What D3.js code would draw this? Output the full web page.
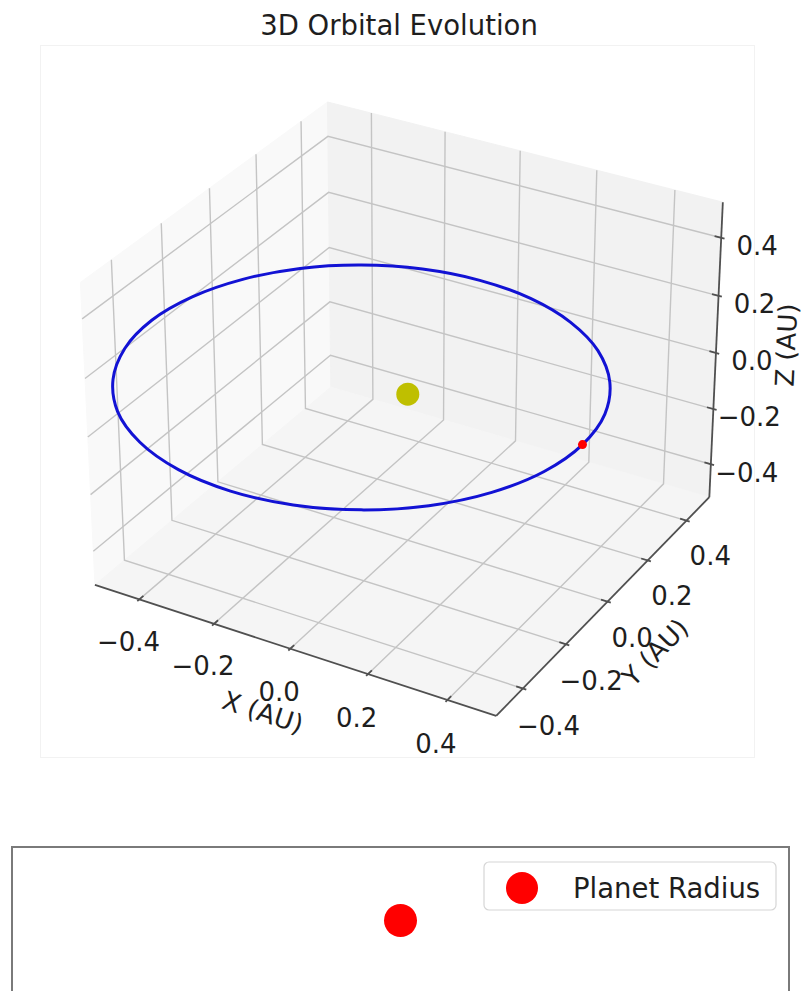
<!DOCTYPE html>
<html>
<head>
<meta charset="utf-8">
<script src="https://cdn.jsdelivr.net/npm/d3@7"></script>
<style>
  html, body { margin: 0; padding: 0; background: #ffffff; }
  svg { display: block; font-family: "DejaVu Sans", sans-serif; }
</style>
</head>
<body>
<svg id="chart" width="803" height="991"></svg>
<script>
// ---- data ----
const chartTitle = "3D Orbital Evolution";
const axisLimits = [-0.5, 0.5];                    // same limits on x, y and z
const tickValues = [-0.4, -0.2, 0.0, 0.2, 0.4];
const tickLabels = ["\u22120.4", "\u22120.2", "0.0", "0.2", "0.4"];
const axisTitles = ["X (AU)", "Y (AU)", "Z (AU)"];

// orbit track in AU (x, y, z)
const orbitX = [0.447, 0.428, 0.371, 0.280, 0.162, 0.025, -0.123, -0.270, -0.408, -0.526, -0.616, -0.673,
                -0.693, -0.673, -0.616, -0.526, -0.408, -0.270, -0.123, 0.025, 0.162, 0.280, 0.371, 0.428];
const orbitY = [0.000, 0.144, 0.278, 0.394, 0.482, 0.538, 0.557, 0.538, 0.482, 0.394, 0.278, 0.144,
                0.000, -0.144, -0.278, -0.394, -0.482, -0.538, -0.557, -0.538, -0.482, -0.394, -0.278, -0.144];
const orbitZ = [0, 0, 0, 0, 0, 0, 0, 0, 0, 0, 0, 0, 0, 0, 0, 0, 0, 0, 0, 0, 0, 0, 0, 0];

const starPosition = [0, 0, 0];
const planetPosition = [0.447, 0.0, 0.0];

// planet radius panel
const radiusTime = [0];
const radiusValue = [1.0];
const radiusLegend = "Planet Radius";

// ---- 3D projection (elevation 30°, azimuth -60°, perspective) ----
const elev = 30, azim = -60;
function cross(a, b) { return [a[1]*b[2]-a[2]*b[1], a[2]*b[0]-a[0]*b[2], a[0]*b[1]-a[1]*b[0]]; }
function dot(a, b) { return a[0]*b[0] + a[1]*b[1] + a[2]*b[2]; }
function unit(a) { const n = Math.hypot(a[0], a[1], a[2]); return a.map(v => v / n); }

const aspect = [4, 4, 3];
const aspNorm = Math.hypot(...aspect);
const box = aspect.map(v => v * 1.8294640721620434 / aspNorm);
const centre = box.map(v => v / 2);
const er = elev * Math.PI / 180, ar = azim * Math.PI / 180;
const viewDir = [Math.cos(er) * Math.cos(ar), Math.cos(er) * Math.sin(ar), Math.sin(er)];
const camDist = 10;
const eye = centre.map((c, i) => c + camDist * viewDir[i]);
const wAx = unit(viewDir);
const uAx = unit(cross([0, 0, 1], wAx));
const vAx = cross(wAx, uAx);

// world box coordinates for each data axis
const worldScale = [0, 1, 2].map(i => d3.scaleLinear().domain(axisLimits).range([0, box[i]]));

// 2D view plane -> pixels
const viewX = d3.scaleLinear().domain([-0.095, 0.09]).range([41, 755.3]);
const viewY = d3.scaleLinear().domain([-0.095, 0.09]).range([761, 46.7]);

function project(x, y, z) {
  const p = [worldScale[0](x), worldScale[1](y), worldScale[2](z)];
  const d = [p[0]-eye[0], p[1]-eye[1], p[2]-eye[2]];
  const vx = dot(uAx, d), vy = dot(vAx, d), vz = dot(wAx, d);
  return [viewX(vx / -vz), viewY(vy / -vz)];
}

// pane extents (limits padded by a quarter of 1/12 of the range)
const span = axisLimits[1] - axisLimits[0];
const delta = span / 12;
const lo = axisLimits[0] - delta / 4;
const hi = axisLimits[1] + delta / 4;

const svg = d3.select("#chart");
const line2 = d3.line();

// faint axes frame
svg.append("rect").attr("x", 40.5).attr("y", 45.5).attr("width", 714).attr("height", 712)
  .attr("fill", "#ffffff").attr("stroke", "#f2f2f2").attr("stroke-width", 1);

// title
svg.append("text").attr("x", 399).attr("y", 35)
  .attr("text-anchor", "middle").attr("font-size", 27.5).attr("fill", "#1e1e1e")
  .text(chartTitle);

// panes
const panes = [
  { pts: [[lo, lo, lo], [lo, hi, lo], [lo, hi, hi], [lo, lo, hi]], fill: "#f9f9f9" },  // x = min
  { pts: [[lo, hi, lo], [hi, hi, lo], [hi, hi, hi], [lo, hi, hi]], fill: "#f2f2f2" },  // y = max
  { pts: [[lo, lo, lo], [hi, lo, lo], [hi, hi, lo], [lo, hi, lo]], fill: "#f5f5f5" }   // z = min
];
svg.append("g").selectAll("path").data(panes).join("path")
  .attr("d", p => line2(p.pts.map(q => project(...q))) + "Z")
  .attr("fill", p => p.fill).attr("stroke", p => p.fill).attr("stroke-width", 1);

// grid lines on the back panes
const grid = svg.append("g").attr("fill", "none").attr("stroke", "#c4c4c4").attr("stroke-width", 1.4);
tickValues.forEach(t => {
  grid.append("path").attr("d", line2([[t, lo, lo], [t, hi, lo], [t, hi, hi]].map(q => project(...q))));
  grid.append("path").attr("d", line2([[lo, t, hi], [lo, t, lo], [hi, t, lo]].map(q => project(...q))));
  grid.append("path").attr("d", line2([[hi, hi, t], [lo, hi, t], [lo, lo, t]].map(q => project(...q))));
});

// axis lines
const axisColor = "#505050";
const axes = svg.append("g").attr("fill", "none").attr("stroke", axisColor).attr("stroke-width", 1.8);
const xAxisEnds = [[lo, lo, lo], [hi, lo, lo]];
const yAxisEnds = [[hi, lo, lo], [hi, hi, lo]];
const zAxisEnds = [[hi, hi, lo], [hi, hi, hi]];
[xAxisEnds, yAxisEnds, zAxisEnds].forEach(seg => {
  axes.append("path").attr("d", line2(seg.map(q => project(...q))));
});

// tick marks
const tOut = 0.1 * delta, tIn = 0.2 * delta;
tickValues.forEach(t => {
  axes.append("path").attr("d", line2([[t, lo + tIn, lo], [t, lo - tOut, lo]].map(q => project(...q))));
  axes.append("path").attr("d", line2([[hi - tIn, t, lo], [hi + tOut, t, lo]].map(q => project(...q))));
  axes.append("path").attr("d", line2([[hi - tIn, hi, t], [hi + tOut, hi, t]].map(q => project(...q))));
});

// tick labels
const tickFont = 26;
const labels = svg.append("g").attr("font-size", tickFont).attr("fill", "#1e1e1e").attr("text-anchor", "middle");
function centredLabel(g, p, txt) {
  g.append("text").attr("x", p[0]).attr("y", p[1]).attr("dy", "0.36em").text(txt);
}
tickValues.forEach((t, i) => {
  centredLabel(labels, project(t, lo - 0.05, lo - 0.113), tickLabels[i]);
  centredLabel(labels, project(hi + 0.065, t, lo - 0.100), tickLabels[i]);
  const zp = project(hi, hi, t);
  centredLabel(labels, [zp[0] + 36, zp[1] + 8], tickLabels[i]);
});

// axis titles, rotated along their axes
function segAngle(seg) {
  const a = project(...seg[0]), b = project(...seg[1]);
  return Math.atan2(b[1] - a[1], b[0] - a[0]) * 180 / Math.PI;
}
const titleSpecs = [
  { pos: [263, 712], angle: segAngle(xAxisEnds), text: axisTitles[0] },
  { pos: [655, 652], angle: segAngle(yAxisEnds), text: axisTitles[1] },
  { pos: [786, 345], angle: segAngle(zAxisEnds), text: axisTitles[2] }
];
svg.append("g").attr("font-size", tickFont).attr("fill", "#1e1e1e").attr("text-anchor", "middle")
  .selectAll("text").data(titleSpecs).join("text")
  .attr("transform", d => `translate(${d.pos[0]},${d.pos[1]}) rotate(${d.angle})`)
  .attr("dy", "0.36em").text(d => d.text);

// orbit track
const orbitPts = orbitX.map((x, i) => project(x, orbitY[i], orbitZ[i]));
svg.append("path")
  .attr("d", d3.line().curve(d3.curveCatmullRomClosed.alpha(0.5))(orbitPts))
  .attr("fill", "none").attr("stroke", "#1212d4").attr("stroke-width", 3);

// star
const sp = project(...starPosition);
svg.append("circle").attr("cx", sp[0]).attr("cy", sp[1]).attr("r", 11.5).attr("fill", "#bfbf00");

// planet
const pp = project(...planetPosition);
svg.append("circle").attr("cx", pp[0]).attr("cy", pp[1]).attr("r", 4.5).attr("fill", "#ff0000");

// ---- planet radius panel ----
const panel = { left: 12, top: 847, width: 777, height: 147 };
const rx = d3.scaleLinear().domain([radiusTime[0] - 0.055, radiusTime[0] + 0.055])
  .range([panel.left, panel.left + panel.width]);
const ry = d3.scaleLinear().domain([radiusValue[0] - 0.055, radiusValue[0] + 0.055])
  .range([panel.top + panel.height, panel.top]);
const pg = svg.append("g");
pg.append("rect").attr("x", panel.left).attr("y", panel.top)
  .attr("width", panel.width).attr("height", panel.height)
  .attr("fill", "#ffffff").attr("stroke", "#7a7a7a").attr("stroke-width", 2);
pg.selectAll("circle.pt").data(radiusTime).join("circle").attr("class", "pt")
  .attr("cx", (d, i) => rx(d)).attr("cy", (d, i) => ry(radiusValue[i]))
  .attr("r", 16.5).attr("fill", "#ff0000");

// legend
const lg = pg.append("g").attr("transform", `translate(${panel.left + panel.width - 305},${panel.top + 15})`);
lg.append("rect").attr("width", 292).attr("height", 48).attr("rx", 5)
  .attr("fill", "#ffffff").attr("fill-opacity", 0.85).attr("stroke", "#d6d6d6").attr("stroke-width", 1.2);
lg.append("circle").attr("cx", 38).attr("cy", 26).attr("r", 16).attr("fill", "#ff0000");
lg.append("text").attr("x", 89).attr("y", 26).attr("dy", "0.36em")
  .attr("font-size", 27.5).attr("fill", "#1e1e1e").text(radiusLegend);
</script>
</body>
</html>
